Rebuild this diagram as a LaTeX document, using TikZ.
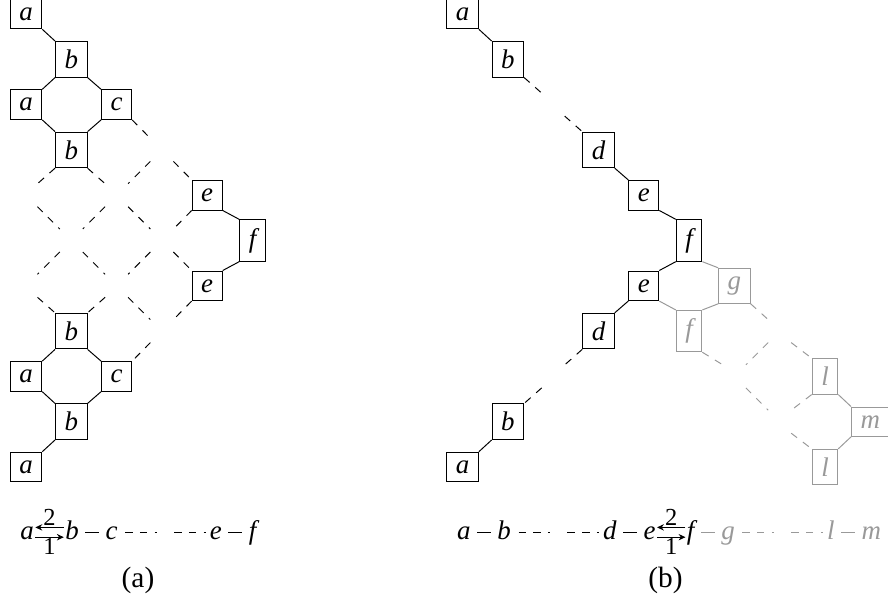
\documentclass[tikz,border=0pt]{standalone}
\usepackage{fontspec}
\setmainfont{Liberation Serif}
\usetikzlibrary{positioning,arrows.meta}

\begin{document}
\begin{tikzpicture}[x=18.5pt, y=-18.5pt, >={Stealth[length=2.8pt,width=2.6pt]},
    every node/.style={font=\fontsize{11}{13}\selectfont\itshape},
    cell/.style={draw, inner xsep=3.7pt, inner ysep=3.4pt},
    ghost/.style={inner sep=0pt, minimum size=9pt},
    dim/.style={black!40},
    sym/.style={inner xsep=0.4pt, inner ysep=0pt, text height=5.5pt, text depth=0pt},
    minus/.style={shorten <=2.1pt, shorten >=2.1pt},
    num/.style={font=\normalsize, inner sep=0.4pt},
    caption/.style={font=\large, anchor=base}]
  \useasboundingbox (-0.574,-0.309) rectangle (19.029,12.936);

  % (a)
  \node[cell] (A1) at (0,0) {a};
  \node[cell] (B1) at (1,1) {b};
  \node[cell] (A2) at (0,2) {a};
  \node[cell] (C1) at (2,2) {c};
  \node[cell] (B2) at (1,3) {b};
  \node[cell] (E1) at (4,4) {e};
  \node[cell] (F1) at (5,5) {f};
  \node[cell] (E2) at (4,6) {e};
  \node[cell] (B3) at (1,7) {b};
  \node[cell] (A3) at (0,8) {a};
  \node[cell] (C2) at (2,8) {c};
  \node[cell] (B4) at (1,9) {b};
  \node[cell] (A4) at (0,10) {a};
  \foreach \c/\r in {3/3,0/4,2/4,1/5,3/5,0/6,2/6,3/7}
    \node[ghost] (x\c\r) at (\c,\r) {};

  \foreach \u/\v in {A1/B1, B1/C1, A2/B2, E1/F1, A3/B4, B3/C2}
    \draw (\u.south east) -- (\v.north west);
  \foreach \u/\v in {B1/A2, C1/B2, F1/E2, B3/A3, C2/B4, B4/A4}
    \draw (\u.south west) -- (\v.north east);
  \foreach \u/\v in {C1/x33, x33/E1, B2/x24, x04/x15, x24/x35, x35/E2, x15/x26, x06/B3, x26/x37}
    \draw[dashed] (\u.south east) -- (\v.north west);
  \foreach \u/\v in {B2/x04, x33/x24, x24/x15, E1/x35, x15/x06, x35/x26, x26/B3, E2/x37, x37/C2}
    \draw[dashed] (\u.south west) -- (\v.north east);

  \node[sym, anchor=base west] (ta) at (-0.155,11.59) {a};
  \node[sym, base right=11.6pt of ta] (tb) {b};
  \node[sym, base right=9.8pt of tb] (tc) {c};
  \node[sym, base right=36.5pt of tc] (te) {e};
  \node[sym, base right=9.8pt of te] (tf) {f};
  \draw[->] ([yshift=2pt]tb.west) -- node[num, above] {2} ([yshift=2pt]ta.east);
  \draw[->] ([yshift=-2pt]ta.east) -- node[num, below] {1} ([yshift=-2pt]tb.west);
  \draw[minus] (tb) -- (tc);
  \coordinate[right=15.3pt of tc] (k1);
  \draw[dashed, shorten <=2.5pt] (tc) -- (k1);
  \coordinate[left=14pt of te] (k2);
  \draw[dashed, shorten >=1pt] (k2) -- (te);
  \draw[minus] (te) -- (tf);
  \node[caption] (capA) at (2.472,12.65) {(a)};

  % (b)
  \begin{scope}[xshift=178.3pt]
    \node[cell] (rA1) at (0,0) {a};
    \node[cell] (rB1) at (1,1) {b};
    \node[cell] (rD1) at (3,3) {d};
    \node[cell] (rE1) at (4,4) {e};
    \node[cell] (rF1) at (5,5) {f};
    \node[cell] (rE2) at (4,6) {e};
    \node[cell, dim] (rG1) at (6,6) {g};
    \node[cell, dim] (rF2) at (5,7) {f};
    \node[cell] (rD2) at (3,7) {d};
    \node[cell] (rB2) at (1,9) {b};
    \node[cell] (rA2) at (0,10) {a};
    \node[cell, dim] (rL1) at (8,8) {l};
    \node[cell, dim] (rM1) at (9,9) {m};
    \node[cell, dim] (rL2) at (8,10) {l};
    \foreach \c/\r in {2/2,2/8,7/7,6/8,7/9}
      \node[ghost] (y\c\r) at (\c,\r) {};

    \foreach \u/\v in {rA1/rB1, rD1/rE1, rE1/rF1}
      \draw (\u.south east) -- (\v.north west);
    \foreach \u/\v in {rF1/rE2, rE2/rD2, rB2/rA2}
      \draw (\u.south west) -- (\v.north east);
    \foreach \u/\v in {rB1/y22, y22/rD1}
      \draw[dashed] (\u.south east) -- (\v.north west);
    \foreach \u/\v in {rD2/y28, y28/rB2}
      \draw[dashed] (\u.south west) -- (\v.north east);
    \foreach \u/\v in {rF1/rG1, rE2/rF2, rL1/rM1}
      \draw[dim] (\u.south east) -- (\v.north west);
    \foreach \u/\v in {rG1/rF2, rM1/rL2}
      \draw[dim] (\u.south west) -- (\v.north east);
    \foreach \u/\v in {rG1/y77, y77/rL1, rF2/y68, y68/y79, y79/rL2}
      \draw[dim, dashed] (\u.south east) -- (\v.north west);
    \foreach \u/\v in {y77/y68, rL1/y79}
      \draw[dim, dashed] (\u.south west) -- (\v.north east);

    \node[sym, anchor=base west] (ua) at (-0.155,11.59) {a};
    \node[sym, base right=9.8pt of ua] (ub) {b};
    \node[sym, base right=36.5pt of ub] (ud) {d};
    \node[sym, base right=9.8pt of ud] (ue) {e};
    \node[sym, base right=11.6pt of ue] (uf) {f};
    \node[sym, dim, base right=9.8pt of uf] (ug) {g};
    \node[sym, dim, base right=36.5pt of ug] (ul) {l};
    \node[sym, dim, base right=9.8pt of ul] (um) {m};
    \draw[minus] (ua) -- (ub);
    \coordinate[right=15.3pt of ub] (k3);
    \draw[dashed, shorten <=2.5pt] (ub) -- (k3);
    \coordinate[left=14pt of ud] (k4);
    \draw[dashed, shorten >=1pt] (k4) -- (ud);
    \draw[minus] (ud) -- (ue);
    \draw[->] ([yshift=2pt]uf.west) -- node[num, above] {2} ([yshift=2pt]ue.east);
    \draw[->] ([yshift=-2pt]ue.east) -- node[num, below] {1} ([yshift=-2pt]uf.west);
    \draw[minus, dim] (uf) -- (ug);
    \coordinate[right=15.3pt of ug] (k5);
    \draw[dashed, dim, shorten <=2.5pt] (ug) -- (k5);
    \coordinate[left=14pt of ul] (k6);
    \draw[dashed, dim, shorten >=1pt] (k6) -- (ul);
    \draw[minus, dim] (ul) -- (um);
    \node[caption] (capB) at (4.481,12.65) {(b)};
  \end{scope}
\end{tikzpicture}
\end{document}
